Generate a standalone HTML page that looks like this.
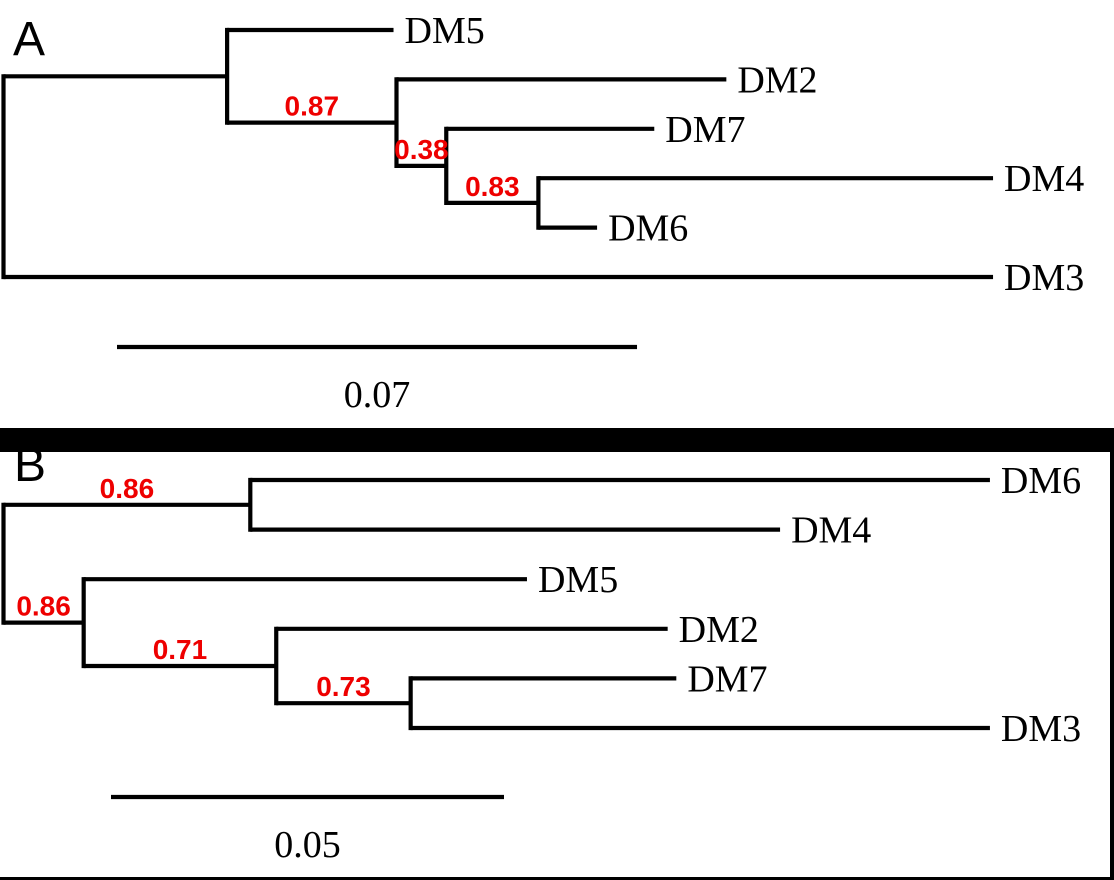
<!DOCTYPE html>
<html><head><meta charset="utf-8">
<style>
html,body{margin:0;padding:0;background:#fff;}
svg{display:block;}
.leaf{font-family:"Liberation Serif",serif;font-size:38px;fill:#000;}
.sup{font-family:"Liberation Sans",sans-serif;font-weight:bold;font-size:28px;fill:#ee0000;}
.panel{font-family:"Liberation Sans",sans-serif;font-size:48px;fill:#000;}
</style></head>
<body>
<svg id="fig" width="1114" height="880" viewBox="0 0 1114 880" xmlns="http://www.w3.org/2000/svg">
  <rect x="0" y="0" width="1114" height="880" fill="#fff"/>
  <rect x="0" y="428" width="1114" height="24" fill="#000"/>
  <rect x="1110" y="428" width="4" height="452" fill="#000"/>
  <rect x="0" y="877" width="1114" height="3" fill="#000"/>
  <text class="panel" x="13" y="55">A</text>
  <text class="panel" x="14" y="481">B</text>
  <g id="treeA"></g>
  <g id="treeB"></g>
</svg>
<script>
// ---- Tree A data ----
const aNodes = ["root","n1","DM5","n2","DM2","n3","DM7","n4","DM4","DM6","DM3"];
const aParents = [null,"root","n1","n1","n2","n2","n3","n3","n4","n4","root"];
const aDepths = [0,0.0301,0.0525,0.0529,0.0973,0.0596,0.0876,0.0720,0.1332,0.0799,0.1332];
const aSupport = [null,null,null,"0.87",null,"0.38",null,"0.83",null,null,null];
const aScaleValue = 0.07;
const aScaleLabel = "0.07";

// ---- Tree B data ----
const bNodes = ["root","n1","DM6","DM4","n2","DM5","n3","DM2","n4","DM7","DM3"];
const bParents = [null,"root","n1","n1","root","n2","n2","n3","n3","n4","n4"];
const bDepths = [0,0.0314,0.1255,0.0988,0.0102,0.0666,0.0347,0.0845,0.0518,0.0856,0.1255];
const bSupport = [null,"0.86",null,null,"0.86",null,"0.71",null,"0.73",null,null];
const bScaleValue = 0.05;
const bScaleLabel = "0.05";

const NS = "http://www.w3.org/2000/svg";
function mk(tag, attrs, parent){
  const e = document.createElementNS(NS, tag);
  for (const k in attrs) e.setAttribute(k, attrs[k]);
  parent.appendChild(e);
  return e;
}

function drawTree(g, nodes, parents, depths, support, scaleVal, scaleLbl, cfg){
  const xs = d => cfg.x0 + d * cfg.pxPerUnit;
  const children = {};
  nodes.forEach((n,i)=>{ if (parents[i]) (children[parents[i]] = children[parents[i]] || []).push(i); });
  const y = {};
  let row = 0;
  function layout(i){
    const ch = children[nodes[i]];
    if (!ch){ y[i] = cfg.y0 + row * cfg.rowGap; row++; return y[i]; }
    const ys = ch.map(layout);
    y[i] = (Math.min(...ys) + Math.max(...ys)) / 2;
    return y[i];
  }
  layout(0);
  const sw = 4.2;
  nodes.forEach((n,i)=>{
    const ch = children[n];
    if (ch){
      const ys = ch.map(c=>y[c]);
      const v = mk("line",{x1:xs(depths[i]),x2:xs(depths[i]),y1:Math.min(...ys)-sw/2,y2:Math.max(...ys)+sw/2,stroke:"#000","stroke-width":sw},g);
      
      
    }
    if (parents[i]){
      const pi = nodes.indexOf(parents[i]);
      const h = mk("line",{x1:xs(depths[pi]),x2:xs(depths[i]),y1:y[i],y2:y[i],stroke:"#000","stroke-width":sw},g);
      
      
      if (!ch){
        const t = mk("text",{x:xs(depths[i])+11,y:y[i]+13,"class":"leaf"},g);
        t.textContent = n;
        
        
      }
      if (support[i]){
        const mid = (xs(depths[pi]) + xs(depths[i])) / 2;
        const s = mk("text",{x:mid,y:y[i]-7,"text-anchor":"middle","class":"sup"},g);
        s.textContent = support[i];
        
        
      }
    }
  });
  const sx1 = cfg.sbX, sx2 = cfg.sbX + scaleVal * cfg.pxPerUnit;
  const sb = mk("line",{x1:sx1,x2:sx2,y1:cfg.sbY,y2:cfg.sbY,stroke:"#000","stroke-width":sw},g);
  
  
  const sl = mk("text",{x:(sx1+sx2)/2,y:cfg.sbY+60,"text-anchor":"middle","class":"leaf"},g);
  sl.textContent = scaleLbl;
  
  
}

drawTree(document.getElementById("treeA"), aNodes, aParents, aDepths, aSupport, aScaleValue, aScaleLabel,
  {x0:3.5, pxPerUnit:7429, y0:30, rowGap:49.4, sbX:117, sbY:347});
drawTree(document.getElementById("treeB"), bNodes, bParents, bDepths, bSupport, bScaleValue, bScaleLabel,
  {x0:3.5, pxPerUnit:7860, y0:480, rowGap:49.6, sbX:111, sbY:797});
</script>
</body></html>
